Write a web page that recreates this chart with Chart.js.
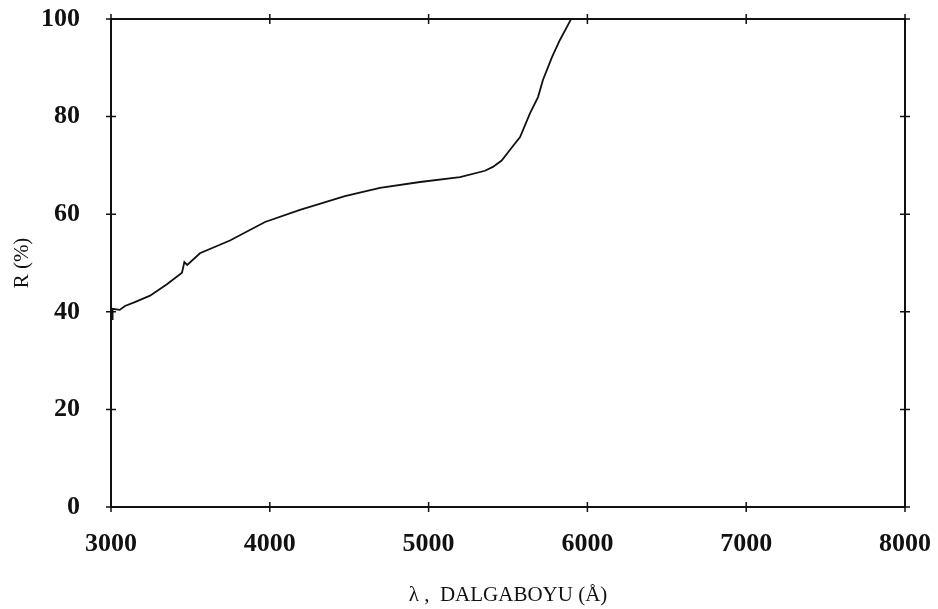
<!DOCTYPE html>
<html>
<head>
<meta charset="utf-8">
<script src="https://cdn.jsdelivr.net/npm/chart.js@4/dist/chart.umd.min.js"></script>
<style>
  html, body { margin: 0; padding: 0; background: #fff; }
  #wrap { width: 938px; height: 609px; }
</style>
</head>
<body>
<div id="wrap"><canvas id="reflChart"></canvas></div>
<script>
// wavelength (Angstrom) and reflectance (%)
const wavelength = [3010, 3010, 3055, 3088, 3150, 3246, 3350, 3447, 3462, 3480, 3560, 3749, 3970, 4190, 4473, 4694, 4946, 5198, 5355, 5405, 5460, 5513, 5576, 5639, 5689, 5720, 5777, 5827, 5878, 5897];
const reflectance = [38.3, 40.6, 40.4, 41.2, 42.0, 43.3, 45.6, 48.0, 50.2, 49.6, 52.0, 54.6, 58.4, 60.9, 63.7, 65.4, 66.6, 67.6, 68.9, 69.7, 71.0, 73.2, 75.8, 80.7, 84.0, 87.5, 92.2, 95.7, 98.8, 100];

const xTicks = [3000, 4000, 5000, 6000, 7000, 8000];
const yTicks = [0, 20, 40, 60, 80, 100];

const points = wavelength.map((w, i) => ({ x: w, y: reflectance[i] }));

const serif = '"Liberation Serif", "DejaVu Serif", serif';

// frame around the plot with tick marks crossing every side
const framePlugin = {
  id: 'frame',
  afterDatasetsDraw(chart) {
    const { ctx, chartArea: a, scales } = chart;
    ctx.save();
    ctx.strokeStyle = '#111';
    ctx.lineWidth = 2;
    ctx.strokeRect(a.left, a.top, a.right - a.left, a.bottom - a.top);
    ctx.lineWidth = 1.5;
    ctx.beginPath();
    xTicks.forEach(v => {
      const px = scales.x.getPixelForValue(v);
      ctx.moveTo(px, a.bottom - 5); ctx.lineTo(px, a.bottom + 5);
      ctx.moveTo(px, a.top - 5); ctx.lineTo(px, a.top + 5);
    });
    yTicks.forEach(v => {
      const py = scales.y.getPixelForValue(v);
      ctx.moveTo(a.left - 5, py); ctx.lineTo(a.left + 5, py);
      ctx.moveTo(a.right - 5, py); ctx.lineTo(a.right + 5, py);
    });
    ctx.stroke();
    ctx.restore();
  }
};

const ctx = document.getElementById('reflChart').getContext('2d');

const reflChart = new Chart(ctx, {
  type: 'line',
  data: {
    datasets: [{
      data: points,
      borderColor: '#111',
      borderWidth: 1.8,
      pointRadius: 0,
      fill: false,
      tension: 0
    }]
  },
  options: {
    responsive: true,
    maintainAspectRatio: false,
    animation: false,
    layout: { padding: { top: 19, right: 33, left: 0, bottom: 0 } },
    plugins: {
      legend: { display: false },
      tooltip: { enabled: false }
    },
    scales: {
      x: {
        type: 'linear',
        min: 3000,
        max: 8000,
        afterBuildTicks: s => { s.ticks = xTicks.map(v => ({ value: v })); },
        afterFit: s => { s.height = 102; s.paddingLeft = 0; s.paddingRight = 0; },
        grid: { display: false, drawTicks: false },
        border: { display: false },
        ticks: {
          color: '#111',
          padding: 22,
          maxRotation: 0,
          callback: v => String(v),
          font: { family: serif, size: 26, weight: 'bold' }
        },
        title: {
          display: true,
          text: 'λ ,  DALGABOYU (Å)',
          color: '#111',
          padding: { top: 0, bottom: 1 },
          font: { family: serif, size: 21 }
        }
      },
      y: {
        min: 0,
        max: 100,
        afterBuildTicks: s => { s.ticks = yTicks.map(v => ({ value: v })); },
        afterFit: s => { s.width = 111; s.paddingTop = 0; s.paddingBottom = 0; },
        grid: { display: false, drawTicks: false },
        border: { display: false },
        ticks: {
          color: '#111',
          padding: 31,
          callback: v => String(v),
          font: { family: serif, size: 26, weight: 'bold' }
        },
        title: {
          display: true,
          text: 'R (%)',
          color: '#111',
          padding: { top: 10, bottom: 0 },
          font: { family: serif, size: 21 }
        }
      }
    }
  },
  plugins: [framePlugin]
});
</script>
</body>
</html>
